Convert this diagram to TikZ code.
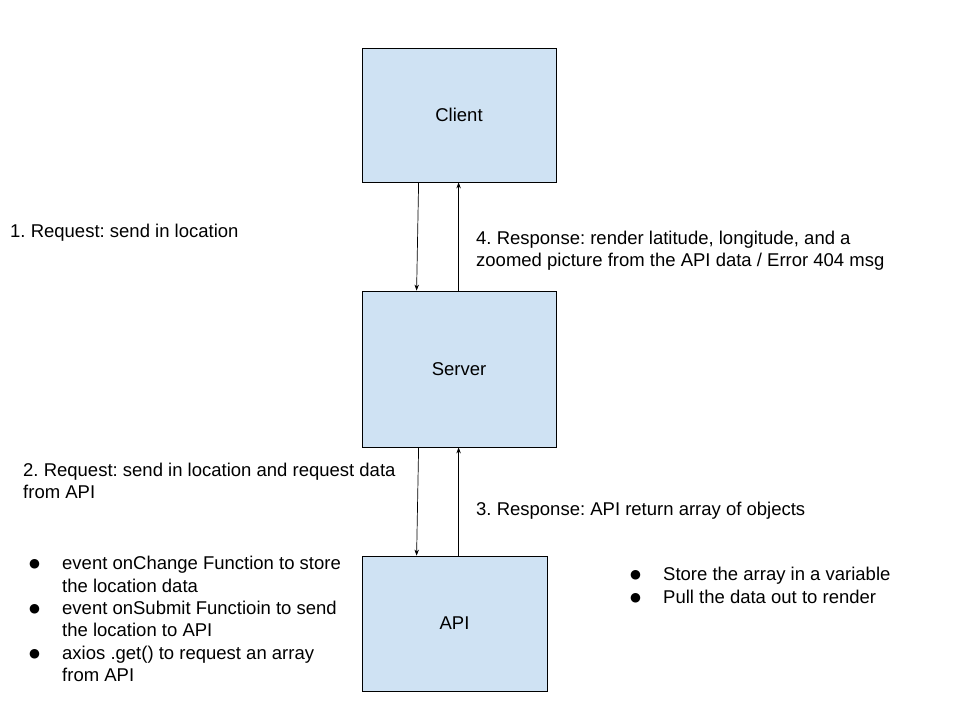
\documentclass[tikz,border=0pt]{standalone}
\usepackage{fontspec}
\setmainfont{Liberation Sans}
\newfontfamily\dotfont{DejaVu Sans}
\usetikzlibrary{arrows.meta}
\frenchspacing
\definecolor{boxblue}{HTML}{CFE2F3}
\newcommand{\blt}{\hspace*{1pt}\raisebox{2pt}{\fontsize{12.5}{12.5}\dotfont ●}}
\tikzset{
  box/.style={draw, fill=boxblue, line width=0.8pt, font=\fontsize{18.5}{22.4}\selectfont},
  flow/.style={line width=0.7pt, -{Stealth[length=6pt,width=4.5pt]}},
  lbl/.style={inner sep=0pt, align=left, font=\fontsize{18.5}{22.4}\selectfont}
}
\begin{document}
\begin{tikzpicture}[x=1pt, y=-1pt]
    \useasboundingbox[fill=white] (0,0) rectangle (960,720);
    \node[box, minimum width=194pt, minimum height=134pt] (client) at (459,115) {Client};
    \node[box, minimum width=194pt, minimum height=156pt] (server) at (459,369) {Server};
    \node[box, minimum width=185pt, minimum height=135pt] (api) at (454.5,623.5) {API};
    \draw[flow] ([xshift=57pt]client.south west) -- ([xshift=55pt]server.north west);
    \draw[flow] ([xshift=97pt]server.north west) -- ([xshift=97pt]client.south west);
    \draw[flow] ([xshift=57pt]server.south west) -- ([xshift=55pt]api.north west);
    \draw[flow] ([xshift=97pt]api.north west) -- ([xshift=97pt]server.south west);
    \node[lbl, anchor=base west] (req1) at (10,237.6) {1. Request: send in location};
    \node[lbl, anchor=north west] (res4) at (476,230.5) {4. Response: render latitude, longitude, and a\\zoomed picture from the API data / Error 404 msg};
    \node[lbl, anchor=north west] (req2) at (23,462.5) {2. Request: send in location and request data\\from API};
    \node[lbl, anchor=base west] (res3) at (476,515.6) {3. Response: API return array of objects};
    % bullet lists
    \node[lbl, anchor=base west] (clientlist) at (28,569.6) {\begin{tabular}[t]{@{}p{34pt}@{}l@{}}
      \blt & event onChange Function to store\\
          & the location data\\
      \blt & event onSubmit Functioin to send\\
          & the location to API\\
      \blt & axios .get() to request an array\\
          & from API
    \end{tabular}};
    \node[lbl, anchor=base west] (serverlist) at (629,580.6) {\begin{tabular}[t]{@{}p{34pt}@{}l@{}}
      \blt & Store the array in a variable\\
      \blt & Pull the data out to render
    \end{tabular}};
\end{tikzpicture}
\end{document}
